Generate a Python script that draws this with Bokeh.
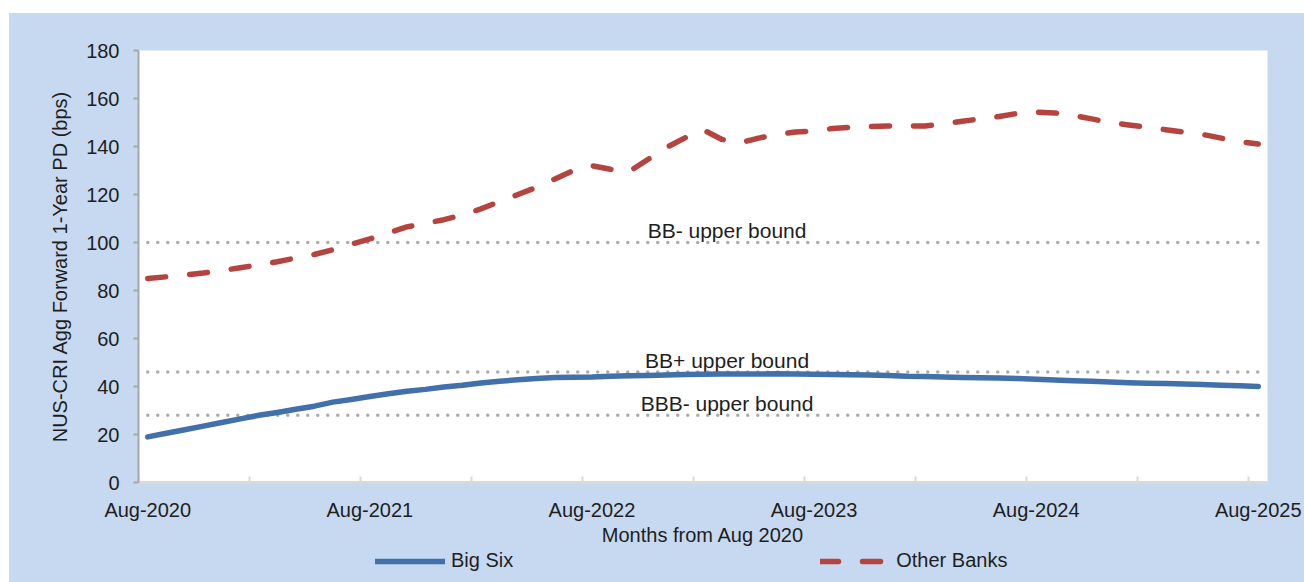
from bokeh.plotting import figure
from bokeh.models import FixedTicker, Legend, LegendItem, Range1d
from bokeh.layouts import column
from bokeh.embed import file_html
from bokeh.resources import INLINE
from bokeh.core.properties import value

# ---------------- data ----------------
month_index = list(range(61))  # Aug-2020 ... Aug-2025, monthly
tick_positions = [0, 12, 24, 36, 48, 60]
tick_labels = ["Aug-2020", "Aug-2021", "Aug-2022", "Aug-2023", "Aug-2024", "Aug-2025"]

big_six = [19.0, 20.5, 22.0, 23.5, 25.0, 26.5, 28.0, 29.2, 30.5, 31.8,
           33.5, 34.6, 35.8, 37.0, 38.0, 38.8, 39.8, 40.5, 41.5, 42.2,
           42.8, 43.3, 43.7, 43.9, 44.0, 44.3, 44.5, 44.6, 44.8, 45.0,
           45.1, 45.2, 45.2, 45.2, 45.3, 45.2, 45.1, 45.0, 44.9, 44.8,
           44.6, 44.3, 44.2, 44.0, 43.8, 43.6, 43.5, 43.3, 43.0, 42.7,
           42.4, 42.2, 41.9, 41.6, 41.4, 41.3, 41.0, 40.8, 40.5, 40.3,
           40.0]

other_banks = [85.0, 85.7, 86.5, 87.3, 88.3, 89.5, 90.7, 92.0, 93.5, 95.0,
               97.0, 99.3, 101.5, 104.0, 106.5, 108.0, 109.5, 111.5, 114.0, 117.0,
               120.0, 123.0, 126.5, 130.0, 132.0, 130.5, 129.5, 134.5, 139.5, 143.5,
               147.0, 143.0, 141.5, 143.5, 145.0, 146.0, 146.5, 147.5, 148.0, 148.3,
               148.5, 148.5, 148.5, 149.5, 150.5, 151.5, 152.5, 153.8, 154.3, 154.0,
               153.0, 151.5, 150.0, 149.0, 148.0, 147.0, 146.0, 145.0, 143.5, 142.0,
               141.0]

series_names = ["Big Six", "Other Banks"]

bound_names = ["BB- upper bound", "BB+ upper bound", "BBB- upper bound"]
bound_levels = [100, 46, 28]
bound_label_x = 31.3

y_ticks = [0, 20, 40, 60, 80, 100, 120, 140, 160, 180]

# ---------------- styles ----------------
FONT = "Liberation Sans"
TXT = "#1e1e1e"
BG = "#C6D9F0"
BLUE = "#4170AB"
RED = "#B5433F"
DOT = "#ABABAB"
W = 1295
H_MAIN = 535
H_LEG = 34

p = figure(width=W, height=H_MAIN, output_backend="svg", toolbar_location=None,
           x_range=Range1d(-0.5, 60.5), y_range=Range1d(0, 180),
           min_border_left=129, min_border_right=37, min_border_top=37,
           min_border_bottom=62)
p.border_fill_color = BG
p.background_fill_color = "white"
p.outline_line_color = None
p.xgrid.visible = False
p.ygrid.visible = False

# bound lines (dotted)
n = len(bound_levels)
p.segment(x0=[month_index[0]] * n, x1=[month_index[-1]] * n, y0=bound_levels, y1=bound_levels,
          line_color=DOT, line_width=3.5, line_dash="0 10", line_cap="round")
p.text(x=[bound_label_x] * n, y=bound_levels, text=bound_names, text_align="center",
       text_baseline="alphabetic", y_offset=-12, text_font=value(FONT),
       text_font_size="21px", text_color=TXT)

blue_style = dict(line_color=BLUE, line_width=5.5, line_cap="round", line_join="round")
red_style = dict(line_color=RED, line_width=5.5, line_dash="18 24", line_cap="round",
                 line_join="round")
p.line(month_index, big_six, **blue_style)
p.line(month_index, other_banks, **red_style)

# x axis
xa = p.xaxis[0]
xa.ticker = FixedTicker(ticks=tick_positions,
                        minor_ticks=[m - 0.5 for m in month_index[::6]])
xa.major_label_overrides = {k: v for k, v in zip(tick_positions, tick_labels)}
xa.major_tick_in = 0
xa.major_tick_out = 0
xa.minor_tick_in = 6
xa.minor_tick_out = 4
xa.minor_tick_line_color = "#D9D9D9"
xa.minor_tick_line_width = 2
xa.axis_line_color = "#D9D9D9"
xa.axis_line_width = 3
xa.major_label_standoff = 12
xa.major_label_text_font = FONT
xa.major_label_text_font_size = "20px"
xa.major_label_text_color = TXT
xa.axis_label = "Months from Aug 2020"
xa.axis_label_text_font = FONT
xa.axis_label_text_font_size = "20px"
xa.axis_label_text_font_style = "normal"
xa.axis_label_text_color = TXT
xa.axis_label_standoff = 0

# y axis
ya = p.yaxis[0]
ya.ticker = FixedTicker(ticks=y_ticks)
ya.major_tick_in = 0
ya.major_tick_out = 5
ya.minor_tick_in = 0
ya.minor_tick_out = 0
ya.major_tick_line_color = "#A6A6A6"
ya.major_tick_line_width = 2
ya.axis_line_color = "#A6A6A6"
ya.axis_line_width = 2
ya.major_label_standoff = 14
ya.major_label_text_font = FONT
ya.major_label_text_font_size = "20px"
ya.major_label_text_color = TXT
ya.axis_label = "NUS-CRI Agg Forward 1-Year PD (bps)"
ya.axis_label_text_font = FONT
ya.axis_label_text_font_size = "20px"
ya.axis_label_text_font_style = "normal"
ya.axis_label_text_color = TXT
ya.axis_label_standoff = 12

# legend strip below the chart (series drawn out of view; only the legend shows)
pl = figure(width=W, height=H_LEG, output_backend="svg", toolbar_location=None,
            x_axis_type=None, y_axis_type=None, x_range=Range1d(-0.5, 60.5),
            y_range=Range1d(-3, -2), min_border=0)
pl.border_fill_color = BG
pl.background_fill_color = None
pl.outline_line_color = None
pl.xgrid.visible = False
pl.ygrid.visible = False
lr1 = pl.line(month_index, big_six, **blue_style)
lr2 = pl.line(month_index, other_banks, **red_style)
legend = Legend(items=[LegendItem(label=series_names[0], renderers=[lr1]),
                       LegendItem(label=series_names[1], renderers=[lr2])],
                orientation="horizontal", location=(237, 10), spacing=307,
                glyph_width=70, glyph_height=22, label_standoff=6, label_height=22,
                label_text_font=FONT, label_text_font_size="20px", label_text_color=TXT,
                background_fill_alpha=0, border_line_alpha=0, padding=0, margin=0)
pl.add_layout(legend, "center")

layout = column(p, pl, spacing=0, margin=(13, 0, 0, 9), styles={"background-color": BG})
open("out.html", "w").write(file_html(layout, INLINE))
